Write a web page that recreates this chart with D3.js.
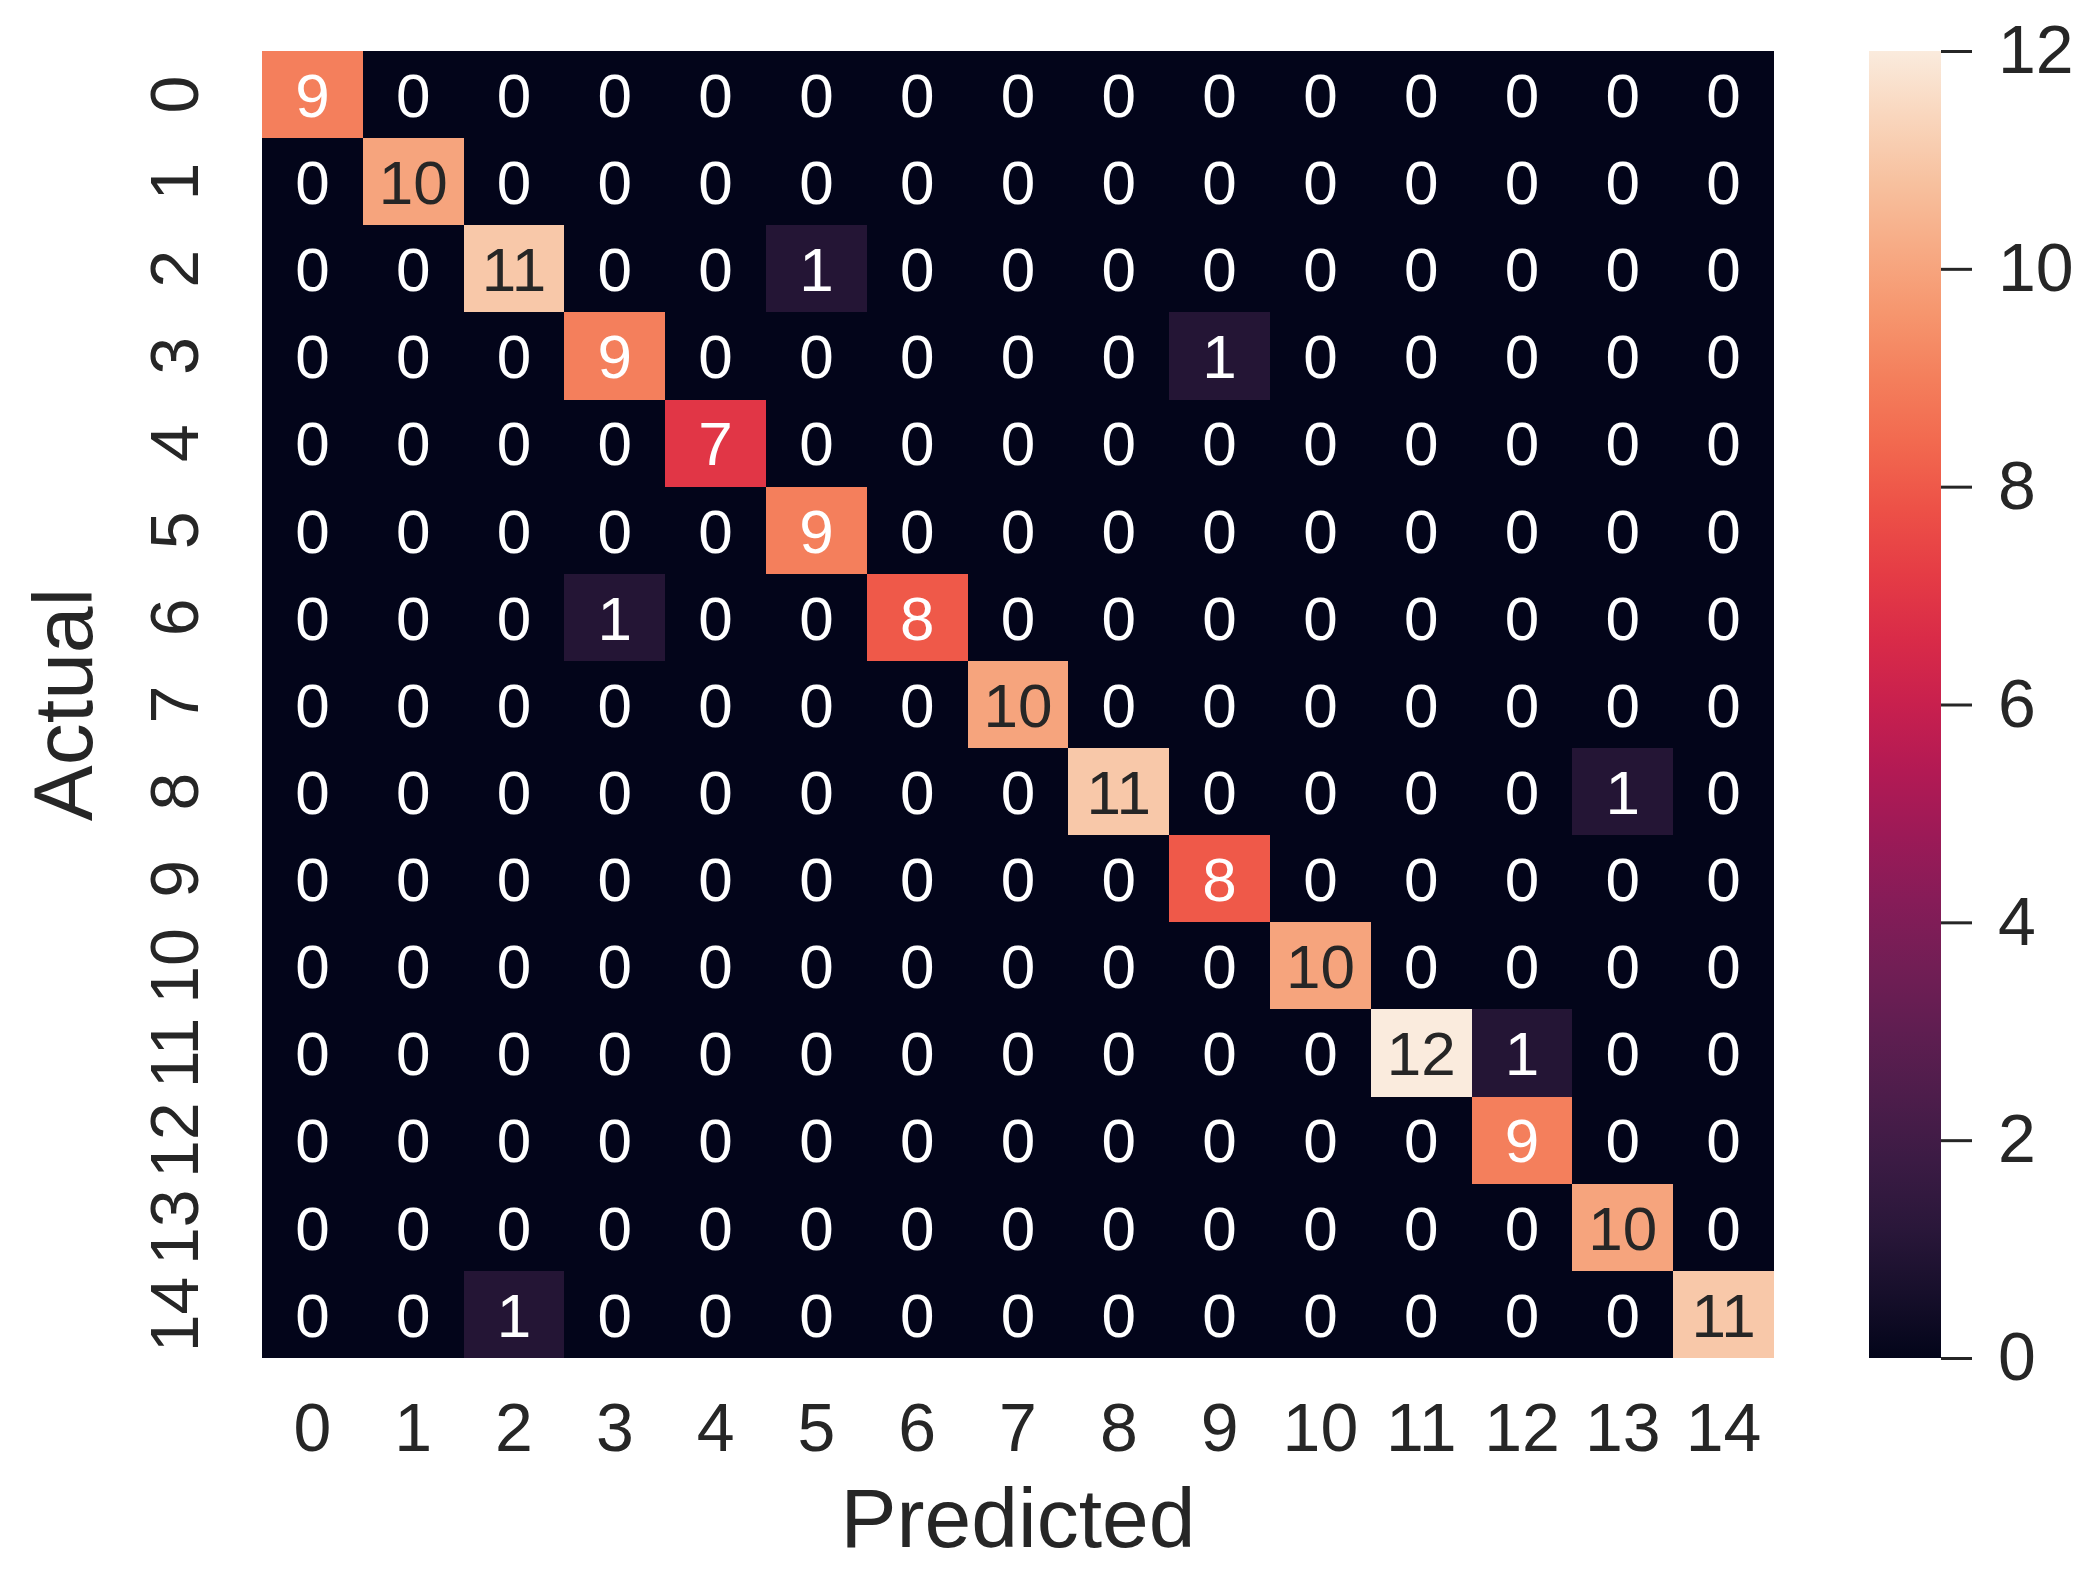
<!DOCTYPE html>
<html><head><meta charset="utf-8">
<script src="https://cdn.jsdelivr.net/npm/d3@7"></script>
<style>body{margin:0;background:#fff}</style>
</head><body>
<svg id="c" width="2099" height="1571"></svg>
<script>
// class labels and confusion matrix (rows = actual, cols = predicted)
const LABELS = d3.range(15).map(String);
const MATRIX = [
 [9,0,0,0,0,0,0,0,0,0,0,0,0,0,0],
 [0,10,0,0,0,0,0,0,0,0,0,0,0,0,0],
 [0,0,11,0,0,1,0,0,0,0,0,0,0,0,0],
 [0,0,0,9,0,0,0,0,0,1,0,0,0,0,0],
 [0,0,0,0,7,0,0,0,0,0,0,0,0,0,0],
 [0,0,0,0,0,9,0,0,0,0,0,0,0,0,0],
 [0,0,0,1,0,0,8,0,0,0,0,0,0,0,0],
 [0,0,0,0,0,0,0,10,0,0,0,0,0,0,0],
 [0,0,0,0,0,0,0,0,11,0,0,0,0,1,0],
 [0,0,0,0,0,0,0,0,0,8,0,0,0,0,0],
 [0,0,0,0,0,0,0,0,0,0,10,0,0,0,0],
 [0,0,0,0,0,0,0,0,0,0,0,12,1,0,0],
 [0,0,0,0,0,0,0,0,0,0,0,0,9,0,0],
 [0,0,0,0,0,0,0,0,0,0,0,0,0,10,0],
 [0,0,1,0,0,0,0,0,0,0,0,0,0,0,11]
];
const CBAR_TICKS = [0,2,4,6,8,10,12];

// approx seaborn "rocket"
const ROCKET = ['#03051a','#2b1a3d','#4c1d4b','#711f57','#9b1859','#cb1b4f','#e83941','#f3694c','#f6966b','#f7c19d','#faebdd'];
const color = d3.scaleSequential(d3.interpolateRgbBasis(ROCKET)).domain([0,12]);

const PLOT = {x0:262, x1:1774, y0:51, y1:1358};
const CBAR = {x0:1869, x1:1941};
const FONT = 'Liberation Sans, Arial, sans-serif';

const svg = d3.select('#c');
const x = d3.scaleBand().domain(LABELS).range([PLOT.x0, PLOT.x1]);
const y = d3.scaleBand().domain(LABELS).range([PLOT.y0, PLOT.y1]);

const cells = [];
MATRIX.forEach((row,i)=>row.forEach((v,j)=>cells.push({r:LABELS[i],c:LABELS[j],v})));

svg.append('rect').attr('x',PLOT.x0).attr('y',PLOT.y0)
	.attr('width',PLOT.x1-PLOT.x0).attr('height',PLOT.y1-PLOT.y0).attr('fill',color(0));

svg.append('g').attr('shape-rendering','crispEdges')
	.selectAll('rect').data(cells.filter(d=>d.v>0)).join('rect')
	.attr('x',d=>x(d.c)).attr('y',d=>y(d.r))
	.attr('width',x.bandwidth()).attr('height',y.bandwidth())
	.attr('fill',d=>color(d.v));

const lum = c => {
	const k = d3.rgb(c);
	const f = u => { u/=255; return u<=0.03928 ? u/12.92 : Math.pow((u+0.055)/1.055,2.4); };
	return 0.2126*f(k.r)+0.7152*f(k.g)+0.0722*f(k.b);
};

svg.append('g').selectAll('text').data(cells).join('text')
	.attr('x',d=>x(d.c)+x.bandwidth()/2).attr('y',d=>y(d.r)+y.bandwidth()/2)
	.attr('dy','0.36em').attr('text-anchor','middle')
	.attr('font-family',FONT).attr('font-size',62)
	.attr('fill',d=>lum(color(d.v))>0.408 ? '#262626' : '#ffffff')
	.text(d=>d.v);

// x tick labels
svg.append('g').selectAll('text').data(LABELS).join('text')
	.attr('x',d=>x(d)+x.bandwidth()/2).attr('y',1427).attr('dy','0.36em')
	.attr('text-anchor','middle').attr('font-family',FONT).attr('font-size',68)
	.attr('fill','#262626').text(d=>d);

// y tick labels, rotated
svg.append('g').selectAll('text').data(LABELS).join('text')
	.attr('transform',d=>`translate(174,${y(d)+y.bandwidth()/2}) rotate(-90)`)
	.attr('dy','0.36em').attr('text-anchor','middle').attr('font-family',FONT).attr('font-size',68)
	.attr('fill','#262626').text(d=>d);

svg.append('text').attr('x',(PLOT.x0+PLOT.x1)/2).attr('y',1517).attr('dy','0.36em')
	.attr('text-anchor','middle').attr('font-family',FONT).attr('font-size',84)
	.attr('fill','#262626').text('Predicted');
svg.append('text').attr('transform',`translate(62,${(PLOT.y0+PLOT.y1)/2}) rotate(-90)`)
	.attr('dy','0.36em').attr('text-anchor','middle').attr('font-family',FONT).attr('font-size',84)
	.attr('fill','#262626').text('Actual');

// colorbar
const cy = d3.scaleLinear().domain([0,12]).range([PLOT.y1, PLOT.y0]);
const defs = svg.append('defs');
const grad = defs.append('linearGradient').attr('id','g').attr('x1',0).attr('x2',0).attr('y1',1).attr('y2',0);
d3.range(0,1.001,0.05).forEach(t=>grad.append('stop').attr('offset',t).attr('stop-color',color(t*12)));
svg.append('rect').attr('x',CBAR.x0).attr('y',PLOT.y0).attr('width',CBAR.x1-CBAR.x0)
	.attr('height',PLOT.y1-PLOT.y0).attr('fill','url(#g)');

const axis = d3.axisRight(cy).tickValues(CBAR_TICKS).tickSize(31).tickPadding(26);
svg.append('g').attr('transform',`translate(${CBAR.x1},0)`).call(axis)
	.call(g=>g.select('.domain').remove())
	.call(g=>g.selectAll('.tick line').attr('stroke','#262626').attr('stroke-width',3))
	.call(g=>g.selectAll('.tick text').attr('font-family',FONT).attr('font-size',68).attr('fill','#262626'));
</script>
</body></html>
